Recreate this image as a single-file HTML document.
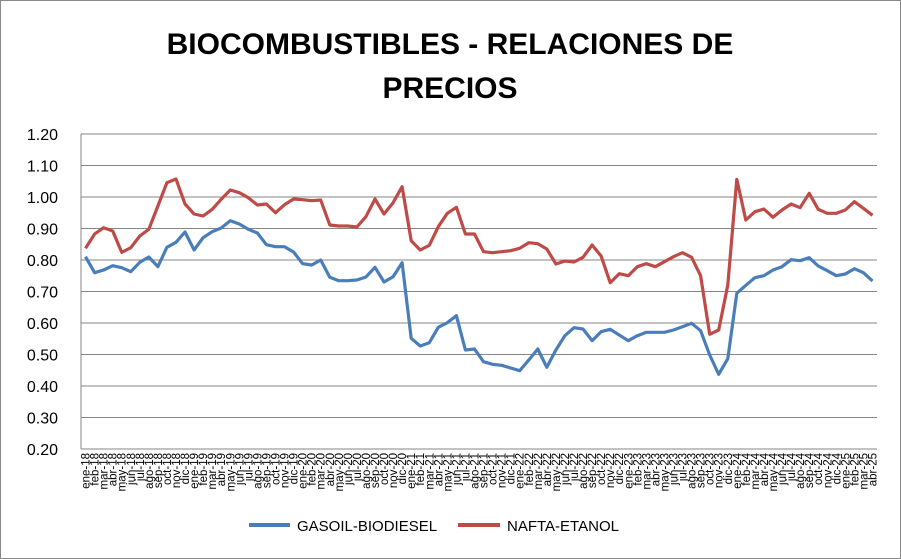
<!DOCTYPE html>
<html><head><meta charset="utf-8"><style>
body{margin:0;background:#fff;}
svg{display:block;font-family:"Liberation Sans",sans-serif;}
</style></head><body>
<svg id="s" width="901" height="559" viewBox="0 0 901 559">
<rect x="0.5" y="0.5" width="900" height="558" fill="#fff" stroke="#888"/>
<text x="450" y="54" font-size="30" font-weight="bold" text-anchor="middle">BIOCOMBUSTIBLES - RELACIONES DE</text>
<text x="450" y="98" font-size="30" font-weight="bold" text-anchor="middle">PRECIOS</text>
<g id="grid"></g>
<g id="series"></g>
<g id="xl"></g>
<line x1="249" y1="525" x2="290" y2="525" stroke="#4a7ebb" stroke-width="4"/>
<text x="297" y="531" font-size="15">GASOIL-BIODIESEL</text>
<line x1="458" y1="525" x2="500" y2="525" stroke="#be4b48" stroke-width="4"/>
<text x="507" y="531" font-size="15">NAFTA-ETANOL</text>
</svg>
<script>
var NS="http://www.w3.org/2000/svg";
function el(t,a,p,txt){var e=document.createElementNS(NS,t);for(var k in a)e.setAttribute(k,a[k]);if(txt)e.textContent=txt;p.appendChild(e);return e;}
var g=document.getElementById('grid');
var L=81,R=877,T=134,B=449;
for(var i=0;i<=10;i++){var y=T+i*31.5;
 el('line',{x1:L,y1:y,x2:R,y2:y,stroke:'#868686','stroke-width':1},g);
 el('text',{x:58,y:y+6,'font-size':16,'text-anchor':'end'},g,(1.2-i*0.1).toFixed(2));}
el('line',{x1:L,y1:T,x2:L,y2:B,stroke:'#868686'},g);
var blue=[380,428,420,407,413,425,397,381,410,352,337,306,360,323,305,294,272,282,298,309,344,350,350,366,401,405,390,442,452,452,450,441,412,456,440,398,625,648,638,592,578,557,660,657,
695,703,706,714,722,690,657,712,660,617,593,597,632,605,598,615,632,617,607,607,607,600,590,580,602,675,733,686,490,466,443,437,420,410,389,392,383,408,422,437,432,416,428,453];
var red=[355,312,293,303,367,353,318,298,228,158,147,222,252,258,238,208,180,188,203,225,222,248,224,207,209,212,210,285,288,288,291,260,207,252,218,170,332,360,346,290,250,232,312,312,
365,368,365,362,355,338,341,357,402,393,396,382,345,378,458,431,437,410,401,410,395,380,368,382,437,613,600,465,148,270,245,237,262,240,222,233,190,238,250,250,240,215,235,256];
var dx=(R-L)/88;
function pts(a){return a.map(function(Y,i){return (L+dx*(i+0.5)).toFixed(1)+','+(130+Y/3).toFixed(1);}).join(' ');}
var s=document.getElementById('series');
el('polyline',{points:pts(blue),fill:'none',stroke:'#4a7ebb','stroke-width':3.2,'stroke-linejoin':'round'},s);
el('polyline',{points:pts(red),fill:'none',stroke:'#be4b48','stroke-width':3.2,'stroke-linejoin':'round'},s);
var m=['ene','feb','mar','abr','may','jun','jul','ago','sep','oct','nov','dic'];
var xl=document.getElementById('xl');
for(var i=0;i<88;i++){var yr=18+Math.floor(i/12);var x=L+dx*(i+0.5)+4;
 el('text',{x:0,y:0,'font-size':11.5,'text-anchor':'end',transform:'translate('+x.toFixed(1)+',453) rotate(-90)'},xl,m[i%12]+'-'+yr);}
</script>
</body></html>
